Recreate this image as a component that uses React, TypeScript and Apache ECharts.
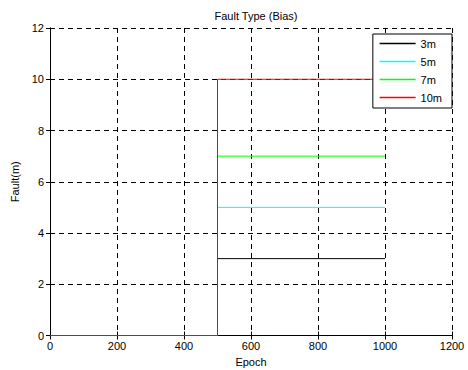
import React, { useEffect, useRef } from "react";
import * as echarts from "echarts";

const seriesNames = ["3m", "5m", "7m", "10m"];
const biasValues = [3, 5, 7, 10];
const seriesColors = ["#000000", "#00ffff", "#00ff00", "#ff0000"];
const epochStart = 0;
const faultEpoch = 500;
const epochEnd = 1000;
const xTicks = [0, 200, 400, 600, 800, 1000, 1200];
const yTicks = [0, 2, 4, 6, 8, 10, 12];

const FONT = "Liberation Sans, Arial, sans-serif";

export default function App() {
  const ref = useRef<HTMLDivElement>(null);
  useEffect(() => {
    if (!ref.current) return;
    const chart = echarts.init(ref.current, undefined, { renderer: "svg" });
    const dash = [5, 4];
    const series = seriesNames
      .map((name, i) => ({
        name,
        type: "line",
        showSymbol: false,
        symbol: "none",
        clip: false,
        data: [
          [epochStart, 0],
          [faultEpoch, 0],
          [faultEpoch, biasValues[i]],
          [epochEnd, biasValues[i]],
        ],
        lineStyle: { color: seriesColors[i], width: 1, opacity: 1 },
        itemStyle: { color: seriesColors[i] },
        z: 20 + i * 2,
      }))
      .reverse();
    const label = { color: "#000", fontSize: 11, fontFamily: FONT };
    chart.setOption({
      animation: false,
      backgroundColor: "#fff",
      textStyle: { fontFamily: FONT },
      title: {
        text: "Fault Type (Bias)",
        left: 251,
        textAlign: "center",
        top: 5,
        textStyle: { fontSize: 11, fontWeight: "normal", color: "#000", fontFamily: FONT },
      },
      legend: {
        data: seriesNames,
        orient: "vertical",
        right: 16,
        top: 34,
        z: 50,
        backgroundColor: "#fff",
        borderColor: "#000",
        borderWidth: 1,
        borderRadius: 0,
        padding: [4, 10, 5, 6],
        itemGap: 7,
        itemWidth: 36,
        itemHeight: 11,
        itemStyle: { opacity: 0 },
        lineStyle: { width: 1.5 },
        textStyle: label,
      },
      grid: { left: 50, right: 16, top: 28, bottom: 34.5, containLabel: false, outerBoundsMode: "none" },
      xAxis: [
        {
          type: "value",
          min: 0,
          max: 1200,
          interval: 200,
          name: "Epoch",
          nameLocation: "middle",
          nameGap: 19,
          nameTextStyle: label,
          z: 0,
          axisLine: { show: true, lineStyle: { color: "#000", width: 1 } },
          axisTick: { show: true, inside: true, length: 4, lineStyle: { color: "#000" } },
          axisLabel: { ...label, margin: 5, formatter: (v: number) => (xTicks.includes(v) ? String(v) : "") },
          splitLine: { show: true, lineStyle: { color: "#000", type: dash, width: 1 } },
        },
        {
          type: "value",
          position: "top",
          min: 0,
          max: 1200,
          interval: 200,
          z: 0,
          axisLine: { show: true, lineStyle: { color: "#000", width: 1 } },
          axisTick: { show: true, inside: true, length: 4, lineStyle: { color: "#000" } },
          axisLabel: { show: false },
          splitLine: { show: false },
        },
      ],
      yAxis: [
        {
          type: "value",
          min: 0,
          max: 12,
          interval: 2,
          name: "Fault(m)",
          nameLocation: "middle",
          nameGap: 27,
          nameTextStyle: label,
          z: 0,
          axisLine: { show: true, lineStyle: { color: "#000", width: 1 } },
          axisTick: { show: true, inside: true, length: 4, lineStyle: { color: "#000" } },
          axisLabel: { ...label, margin: 6, formatter: (v: number) => (yTicks.includes(v) ? String(v) : "") },
          splitLine: { show: true, lineStyle: { color: "#000", type: dash, width: 1 } },
        },
        {
          type: "value",
          position: "right",
          min: 0,
          max: 12,
          interval: 2,
          z: 0,
          axisLine: { show: true, lineStyle: { color: "#000", width: 1 } },
          axisTick: { show: true, inside: true, length: 4, lineStyle: { color: "#000" } },
          axisLabel: { show: false },
          splitLine: { show: false },
        },
      ],
      series,
    });
    return () => chart.dispose();
  }, []);
  return <div ref={ref} style={{ width: 468, height: 370, position: "absolute", left: 0, top: 0 }} />;
}
